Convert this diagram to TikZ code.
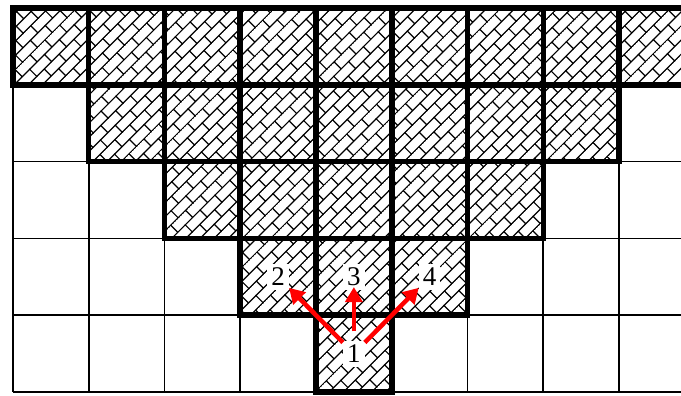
\documentclass[tikz,border=0pt]{standalone}
\usepackage{fontspec}
\setmainfont{Liberation Serif}
\usetikzlibrary{arrows.meta,patterns.meta}

\pgfdeclarepattern{
  name=slantbricks,
  bottom left={\pgfpoint{-.6pt}{-.6pt}},
  top right={\pgfpoint{21.6pt}{20.6pt}},
  tile size={\pgfpoint{21pt}{20pt}},
  tile transformation={\pgftransformrotate{45}},
  code={
    \pgfsetlinewidth{1.2pt}
    \pgfpathmoveto{\pgfpoint{-.6pt}{0pt}}\pgfpathlineto{\pgfpoint{21.6pt}{0pt}}
    \pgfpathmoveto{\pgfpoint{-.6pt}{10pt}}\pgfpathlineto{\pgfpoint{21.6pt}{10pt}}
    \pgfpathmoveto{\pgfpoint{0pt}{0pt}}\pgfpathlineto{\pgfpoint{0pt}{10pt}}
    \pgfpathmoveto{\pgfpoint{10.5pt}{10pt}}\pgfpathlineto{\pgfpoint{10.5pt}{20pt}}
    \pgfusepath{stroke}
  }
}

\begin{document}
\begin{tikzpicture}[
    x=75.75pt, y=76.8pt,
    gridline/.style={line width=1.8pt},
    hatched/.style={pattern=slantbricks},
    edge/.style={line width=5.5pt, line join=miter},
    num/.style={font=\fontsize{27}{30}\selectfont, fill=white, inner sep=4pt},
    arr/.style={-{Triangle[length=15pt,width=17pt]}, red, line width=4.5pt}
]

\useasboundingbox (-0.1716,0.1042) rectangle (8.8185,-5.0521);
\clip (-0.1716,0.1042) rectangle (8.8185,-5.0521);

% Grid
\foreach \x in {0,...,9} {
    \draw[gridline] (\x,0) -- (\x,-5);
}
\foreach \y in {0,...,5} {
    \draw[gridline] (0,-\y) -- (9,-\y);
}

% Hatched cells
\foreach \r in {0,...,4} {
    \pgfmathtruncatemacro{\last}{8-\r}
    \foreach \c in {\r,...,\last} {
        \fill[hatched] (\c,-\r) rectangle ++(1,-1);
    }
}
\foreach \r in {0,...,4} {
    \pgfmathtruncatemacro{\last}{8-\r}
    \foreach \c in {\r,...,\last} {
        \draw[edge] (\c,-\r) rectangle ++(1,-1);
    }
}

% Labels
\node[num] (n1) at (4.5,-4.5) {1};
\node[num] (n2) at (3.5,-3.5) {2};
\node[num] (n3) at (4.5,-3.5) {3};
\node[num] (n4) at (5.5,-3.5) {4};

% Arrows
\draw[arr] (n1) -- (n2);
\draw[arr, shorten <=9pt, shorten >=-3pt] (n1) -- (n3);
\draw[arr] (n1) -- (n4);

\end{tikzpicture}
\end{document}
